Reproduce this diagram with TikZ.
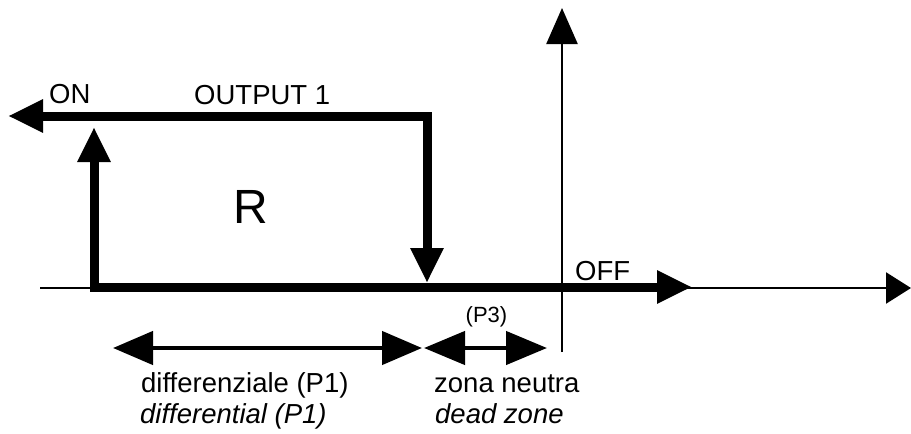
\documentclass[tikz,border=0pt]{standalone}
\usepackage{fontspec}
\setmainfont{Liberation Sans}
\usetikzlibrary{arrows.meta}
\begin{document}
\begin{tikzpicture}[x=1pt,y=-1pt,
  bigarrow/.style={line width=9pt, line cap=rect, -{Triangle[length=35pt,width=31pt]}},
  axisline/.style={line width=2.4pt, -{Triangle[length=34pt,width=31pt]}},
  dimarrow/.style={line width=4.5pt, {Triangle[length=40pt,width=33pt]}-{Triangle[length=40pt,width=33pt]}},
  lbl/.style={inner sep=0pt, anchor=base west, font=\fontsize{27.5}{30}\selectfont},
  ilbl/.style={lbl, font=\fontsize{27.5}{30}\selectfont\itshape}]
\useasboundingbox (0,0) rectangle (911,434);
% coordinates
\coordinate (axL) at (40,288);
\coordinate (axR) at (911,288);
\coordinate (ayB) at (562,352);
\coordinate (ayT) at (562,8);
\coordinate (corner) at (427,116);
\coordinate (ontip) at (8,116);
\coordinate (downtip) at (427,283);
\coordinate (start) at (94,287);
\coordinate (uptip) at (94,127);
\coordinate (offtip) at (692,287);
\coordinate (d1L) at (113,348);
\coordinate (d1R) at (422,348);
\coordinate (d2L) at (424,348);
\coordinate (d2R) at (547,348);
% axes
\draw[axisline, -{Triangle[length=25pt,width=31pt]}] (axL) -- (axR);
\draw[axisline, -{Triangle[length=36pt,width=31pt]}] (ayB) -- (ayT);
% thick cycle
\draw[bigarrow] (corner) -- (ontip);
\draw[bigarrow] (corner) -- (downtip);
\draw[bigarrow] (start) -- (offtip);
\draw[bigarrow] (start) -- (uptip);
% dimension arrows
\draw[dimarrow] (d1L) -- (d1R);
\draw[dimarrow, {Triangle[length=41pt,width=33pt]}-{Triangle[length=41pt,width=33pt]}] (d2L) -- (d2R);
% labels
\node[lbl] (on) at (49,103) {ON};
\node[lbl] (out) at (194,104) {OUTPUT 1};
\node[lbl, font=\fontsize{48}{50}\selectfont] (r) at (233,223) {R};
\node[lbl] (off) at (575,280) {OFF};
\node[lbl, font=\fontsize{22}{24}\selectfont] (p3) at (465.5,322.5) {(P3)};
\node[lbl] (dif) at (141,392) {differenziale (P1)};
\node[ilbl] (difen) at (140,423) {differential (P1)};
\node[lbl] (zona) at (434,392) {zona neutra};
\node[ilbl] (dead) at (435,423) {dead zone};
\end{tikzpicture}
\end{document}
